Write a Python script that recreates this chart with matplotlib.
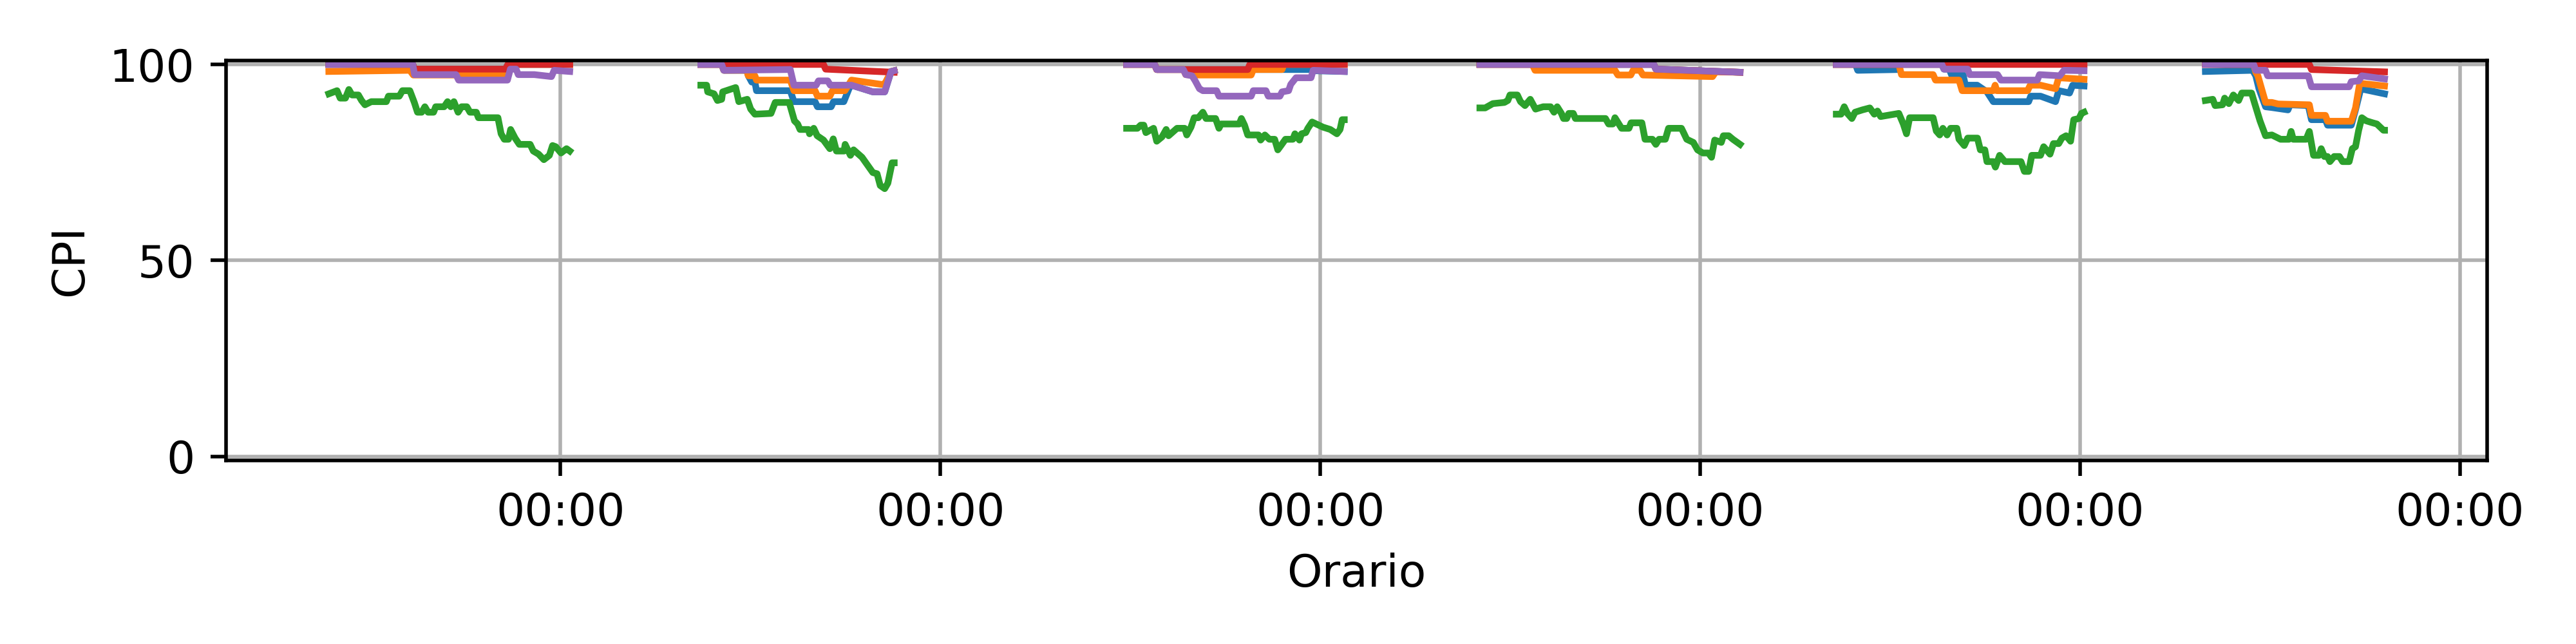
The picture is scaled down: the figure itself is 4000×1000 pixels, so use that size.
import numpy as np
import pandas as pd
import matplotlib
matplotlib.use("Agg")
import matplotlib.pyplot as plt
import matplotlib.dates as mdates

# session start times (one trading session per day)
S1_START = "2024-01-08 09:22"
S2_START = "2024-01-09 08:52"
S3_START = "2024-01-10 11:46"
S4_START = "2024-01-11 10:05"
S5_START = "2024-01-12 08:36"
S6_START = "2024-01-13 07:55"

# (minutes from session start, CPI)
# ---- session 1
s1_blue = [(0, 100), (318, 100), (325, 98.8), (669, 98.8), (679, 100), (913, 100)]
s1_orange = [(0, 98.2), (307, 98.5), (320, 97.3), (669, 97.3), (679, 100), (913, 100)]
s1_green = [(0, 92.5), (31, 93.3), (43, 91.4), (63, 91.4), (76, 93.6), (88, 92.2), (112, 92.2),
            (124, 90.8), (137, 89.7), (161, 90.5), (218, 90.5), (226, 91.9), (267, 91.9),
            (279, 93.3), (307, 93.3), (324, 90.3), (336, 87.8), (352, 87.8), (364, 89.2),
            (376, 87.8), (397, 87.8), (405, 89.2), (437, 89.2), (450, 90.5), (462, 89.2),
            (474, 90.5), (490, 87.8), (503, 89.2), (523, 89.2), (535, 87.8), (559, 87.8),
            (567, 86.4), (641, 86.4), (653, 82.3), (665, 80.9), (681, 80.9), (689, 83.4),
            (706, 81.2), (722, 79.6), (763, 79.6), (775, 77.9), (795, 77.1), (815, 75.7),
            (836, 76.8), (848, 79.3), (860, 79.0), (880, 77.4), (901, 78.5), (913, 77.9)]
s1_red = [(0, 100), (318, 100), (325, 98.8), (669, 98.8), (679, 100), (913, 100)]
s1_purple = [(0, 100), (318, 100), (325, 97.4), (482, 97.4), (492, 96.0), (677, 96.0),
             (688, 98.8), (710, 98.8), (718, 97.4), (779, 97.4), (844, 96.9), (854, 98.5),
             (913, 98.2)]

# ---- session 2
s2_blue = [(0, 100), (79, 100), (87, 98.5), (174, 98.5), (180, 97.1), (193, 95.5), (205, 95.5),
           (211, 93.3), (339, 93.3), (353, 90.5), (433, 90.5), (442, 89.2), (494, 89.2),
           (503, 90.5), (542, 90.5), (567, 94.7), (571, 94.7), (652, 93.0), (697, 93.0),
           (721, 98.2), (733, 98.4)]
s2_orange = [(0, 100), (79, 100), (87, 98.5), (174, 98.5), (180, 97.1), (205, 97.1), (211, 96.0),
             (339, 96.0), (353, 93.3), (433, 93.3), (442, 91.9), (489, 91.9), (499, 93.3),
             (546, 93.3), (571, 96.0), (685, 94.9), (697, 95.0), (721, 98.2), (733, 98.4)]
s2_green = [(0, 94.7), (22, 94.7), (26, 93.0), (50, 92.5), (63, 90.8), (79, 91.1), (83, 93.0),
            (132, 94.1), (144, 90.5), (176, 91.1), (189, 88.6), (205, 87.3), (266, 87.5),
            (282, 90.3), (335, 90.3), (355, 85.6), (367, 84.8), (376, 83.4), (408, 83.4),
            (412, 82.3), (428, 83.7), (441, 81.8), (465, 80.7), (489, 78.5), (502, 81.0),
            (514, 77.9), (543, 77.9), (547, 79.6), (567, 76.8), (579, 78.2), (611, 76.3),
            (652, 72.4), (668, 72.1), (680, 69.1), (697, 68.3), (709, 69.7), (725, 74.9),
            (733, 74.9)]
s2_red = [(0, 100), (465, 100), (473, 98.8), (733, 98.0)]
s2_purple = [(0, 100), (79, 100), (87, 98.5), (339, 98.7), (353, 94.7), (437, 94.7), (446, 95.8),
             (481, 95.8), (491, 94.7), (571, 94.7), (652, 93.0), (697, 93.0), (721, 98.2),
             (733, 98.4)]

# ---- session 3
s3_blue = [(0, 100), (106, 100), (114, 98.7), (699, 98.7), (707, 98.4), (825, 98.2)]
s3_orange = [(0, 100), (106, 100), (114, 98.7), (215, 98.7), (224, 97.4), (268, 97.3), (472, 97.3),
             (480, 98.7), (589, 98.7), (596, 100), (825, 100)]
s3_green = [(0, 83.7), (41, 83.7), (53, 84.5), (65, 84.5), (73, 82.6), (102, 83.7), (114, 80.4),
            (134, 81.5), (150, 83.4), (159, 81.8), (191, 83.7), (220, 83.7), (228, 82.0),
            (244, 84.0), (256, 86.4), (272, 86.4), (289, 87.8), (301, 86.2), (337, 86.2),
            (350, 83.7), (358, 84.8), (427, 84.8), (435, 86.2), (447, 84.5), (459, 82.0),
            (500, 82.0), (508, 80.7), (524, 82.0), (541, 80.9), (561, 80.9), (573, 78.2),
            (585, 79.3), (602, 80.9), (630, 80.9), (638, 82.3), (655, 80.7), (663, 82.3),
            (679, 82.6), (687, 83.7), (703, 85.3), (744, 84.0), (772, 83.4), (797, 82.3),
            (809, 83.4), (817, 85.9), (825, 85.9)]
s3_red = [(0, 100), (106, 100), (114, 98.7), (459, 98.7), (467, 100), (825, 100)]
s3_purple = [(0, 100), (106, 100), (114, 98.7), (215, 98.7), (224, 97.4), (248, 97.1), (260, 95.8),
             (276, 93.8), (289, 93.3), (341, 93.3), (350, 91.9), (472, 91.9), (480, 93.3),
             (528, 93.3), (537, 91.9), (581, 91.9), (589, 93.0), (614, 93.3), (622, 94.9),
             (642, 96.6), (699, 96.6), (707, 98.5), (825, 98.2)]

# ---- session 4
s4_blue = [(0, 100), (659, 100), (667, 98.8), (986, 98.0)]
s4_orange = [(0, 100), (199, 100), (209, 98.5), (512, 98.5), (523, 97.3), (572, 97.3), (581, 98.5),
             (607, 98.5), (618, 97.3), (882, 96.9), (894, 98.1), (986, 98.0)]
s4_green = [(0, 88.9), (20, 88.9), (49, 90.0), (93, 90.3), (106, 90.8), (114, 92.2), (142, 92.2),
            (154, 90.5), (171, 89.5), (191, 91.1), (211, 88.6), (240, 89.2), (268, 89.2),
            (281, 87.8), (293, 89.2), (309, 87.5), (317, 86.2), (329, 86.2), (337, 87.5),
            (354, 87.5), (362, 86.2), (476, 86.2), (488, 84.8), (504, 84.8), (512, 86.4),
            (524, 85.1), (537, 83.7), (565, 83.7), (573, 85.1), (614, 85.1), (626, 80.9),
            (654, 80.9), (667, 79.6), (679, 80.9), (703, 80.9), (715, 83.7), (764, 83.7),
            (772, 82.6), (784, 80.9), (809, 80.1), (825, 78.2), (845, 77.4), (866, 77.4),
            (878, 76.3), (890, 80.7), (915, 80.1), (923, 81.8), (943, 81.8), (959, 80.9),
            (986, 79.6)]
s4_red = [(0, 100), (659, 100), (667, 98.8), (986, 98.0)]
s4_purple = [(0, 100), (659, 100), (667, 98.8), (986, 98.0)]

# ---- session 5
s5_blue = [(0, 100), (73, 100), (81, 98.5), (237, 98.7), (244, 100), (400, 100), (408, 98.8),
           (428, 98.8), (437, 97.3), (481, 97.3), (489, 94.7), (534, 94.7), (571, 93.0),
           (595, 90.5), (729, 90.5), (737, 91.9), (774, 91.9), (831, 90.5), (843, 93.3),
           (884, 92.7), (896, 94.7), (939, 94.5)]
s5_orange = [(0, 100), (237, 100), (247, 97.4), (367, 97.4), (376, 96.0), (465, 96.0), (477, 93.3),
             (595, 93.3), (602, 94.7), (608, 93.3), (725, 93.3), (735, 94.7), (774, 94.7),
             (831, 93.8), (843, 96.6), (939, 96.2)]
s5_green = [(0, 87.3), (18, 87.3), (30, 89.2), (42, 87.5), (59, 86.2), (71, 87.8), (99, 88.4),
            (127, 88.9), (144, 87.3), (156, 88.1), (168, 86.7), (237, 87.5), (254, 84.8),
            (266, 82.3), (278, 86.4), (367, 86.4), (379, 83.0), (392, 82.0), (404, 83.7),
            (420, 82.0), (433, 83.7), (457, 83.7), (465, 80.9), (485, 79.3), (498, 81.2),
            (535, 81.2), (546, 78.2), (563, 78.2), (571, 75.2), (595, 75.2), (603, 73.8),
            (619, 76.8), (639, 75.2), (700, 75.2), (713, 72.7), (729, 72.7), (741, 76.8),
            (774, 76.8), (786, 79.0), (810, 77.1), (823, 79.8), (843, 79.8), (855, 81.2),
            (871, 81.8), (888, 80.4), (900, 85.9), (920, 86.2), (929, 87.5), (939, 87.8)]
s5_red = [(0, 100), (939, 100)]
s5_purple = [(0, 100), (400, 100), (408, 98.8), (498, 98.8), (506, 97.4), (611, 97.4), (624, 96.0),
             (762, 96.0), (770, 97.4), (847, 97.1), (863, 98.5), (939, 98.4)]

# ---- session 6
s6_blue = [(0, 98.2), (179, 98.5), (191, 97.1), (203, 93.8), (228, 89.2), (252, 89.0), (313, 88.4),
           (321, 89.7), (390, 89.5), (402, 85.9), (455, 85.9), (463, 84.5), (553, 84.5),
           (569, 88.4), (589, 93.8), (602, 93.6), (679, 92.5)]
s6_orange = [(0, 100), (183, 100), (191, 98.0), (199, 97.1), (228, 90.3), (252, 90.3), (276, 89.9),
             (394, 89.7), (402, 87.0), (455, 87.0), (463, 85.5), (553, 85.5), (569, 88.9),
             (585, 95.2), (679, 94.5)]
s6_green = [(0, 90.8), (28, 91.1), (37, 89.5), (65, 89.7), (73, 91.4), (89, 90.0), (106, 92.2),
            (126, 90.8), (138, 92.7), (175, 92.7), (187, 90.0), (207, 85.6), (228, 81.8),
            (252, 82.0), (285, 80.9), (317, 80.9), (325, 82.9), (333, 80.9), (382, 80.9),
            (394, 82.9), (410, 76.8), (431, 76.8), (439, 78.5), (451, 76.5), (463, 76.5),
            (472, 75.2), (488, 76.5), (508, 76.5), (520, 75.2), (545, 75.2), (557, 78.5),
            (569, 79.0), (581, 83.2), (593, 86.4), (610, 85.6), (634, 85.1), (650, 84.8),
            (675, 83.2), (679, 83.2)]
s6_red = [(0, 100), (394, 100), (402, 98.7), (679, 98.1)]
s6_purple = [(0, 100), (183, 100), (191, 98.5), (228, 98.5), (236, 97.1), (390, 97.1), (402, 94.3),
             (545, 94.3), (553, 95.6), (581, 95.8), (593, 97.1), (679, 96.3)]

starts = [S1_START, S2_START, S3_START, S4_START, S5_START, S6_START]
series = {
    "blue": [s1_blue, s2_blue, s3_blue, s4_blue, s5_blue, s6_blue],
    "orange": [s1_orange, s2_orange, s3_orange, s4_orange, s5_orange, s6_orange],
    "green": [s1_green, s2_green, s3_green, s4_green, s5_green, s6_green],
    "red": [s1_red, s2_red, s3_red, s4_red, s5_red, s6_red],
    "purple": [s1_purple, s2_purple, s3_purple, s4_purple, s5_purple, s6_purple],
}


# join sessions into one series, with a NaN gap between sessions
def build(sessions):
    times, vals = [], []
    for start, pts in zip(starts, sessions):
        t0 = pd.Timestamp(start)
        for m, v in pts:
            times.append(t0 + pd.Timedelta(minutes=m))
            vals.append(v)
        times.append(times[-1] + pd.Timedelta(minutes=1))
        vals.append(np.nan)
    return pd.Series(vals, index=pd.DatetimeIndex(times))


fig, ax = plt.subplots(figsize=(8, 2), dpi=500)
for i, name in enumerate(series):
    s = build(series[name])
    ax.plot(s.index, s.values, color=f"C{i}")

ax.set_ylim(-1, 101)
ax.set_yticks([0, 50, 100])
ax.xaxis.set_major_locator(mdates.DayLocator())
ax.xaxis.set_major_formatter(mdates.DateFormatter("%H:%M"))
ax.grid(True)
ax.set_xlabel("Orario")
ax.set_ylabel("CPI")
plt.tight_layout()
plt.savefig("out.png")
